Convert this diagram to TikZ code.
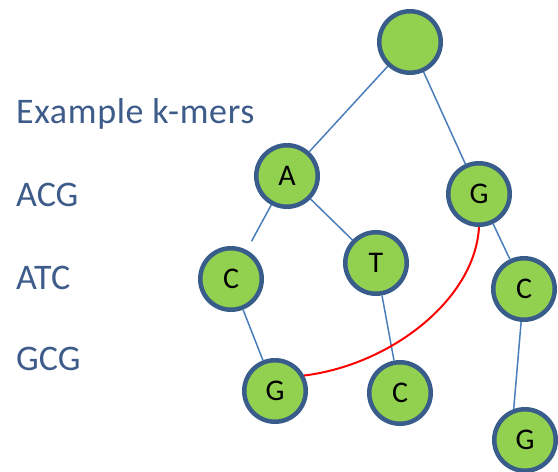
\documentclass[tikz,border=0pt]{standalone}
\usepackage{fontspec}
\setmainfont{Carlito}
\definecolor{nodefill}{HTML}{92D050}
\definecolor{nodeborder}{HTML}{385D8A}
\definecolor{edgecol}{HTML}{4A7EBB}
\definecolor{textcol}{HTML}{3E5C8A}
\begin{document}
\begin{tikzpicture}[x=1pt,y=-1pt,
  kmer/.style={circle,fill=nodefill,draw=nodeborder,line width=4.5pt,minimum size=61.5pt,inner sep=0pt,font=\fontsize{30}{34}\selectfont},
  treeedge/.style={draw=edgecol,line width=1.5pt},
  linkedge/.style={draw=red,line width=2pt},
  lefttext/.style={anchor=base west,inner sep=0pt,text=textcol,font=\fontsize{36}{42}\selectfont}]
\useasboundingbox (0,0) rectangle (558,472);
% left texts
\node[lefttext] (title) at (16,123) {\addfontfeature{LetterSpace=1.8}Example k-mers};
\node[lefttext] (k1) at (16,206) {ACG};
\node[lefttext] (k2) at (16,289) {ATC};
\node[lefttext] (k3) at (16,370) {GCG};
% node centres
\coordinate (pRoot) at (410,42);
\coordinate (pA) at (287,176);
\coordinate (pGr) at (479,194);
\coordinate (pCl) at (231,279);
\coordinate (pT) at (376,263);
\coordinate (pCr) at (524,289);
\coordinate (pGbl) at (275,391);
\coordinate (pCbm) at (400,393);
\coordinate (pGbr) at (525,440);
% nodes
\node[kmer] (root) at (pRoot) {};
\node[kmer] (A) at (pA) {A};
\node[kmer] (Gr) at (pGr) {G};
\node[kmer] (Cl) at (pCl) {C};
\node[kmer] (T) at (pT) {T};
\node[kmer] (Cr) at (pCr) {C};
\node[kmer] (Gbl) at (pGbl) {G};
\node[kmer] (Cbm) at (pCbm) {\raisebox{-4pt}{C}};
\node[kmer] (Gbr) at (pGbr) {G};
% tree edges
\draw[treeedge] (root) -- (A);
\draw[treeedge] (root) -- (Gr);
\draw[treeedge,shorten >=10pt] (A) -- (Cl);
\draw[treeedge] (A) -- (T);
\draw[treeedge] (Gr) -- (Cr);
\draw[treeedge] (Cl) -- (Gbl);
\draw[treeedge] (T) -- (Cbm);
\draw[treeedge] (Cr.265) -- (Gbr.110);
% red link
\draw[linkedge] (Gr.south) .. controls (475,300) and (390,365) .. (Gbl.28);
\end{tikzpicture}
\end{document}
